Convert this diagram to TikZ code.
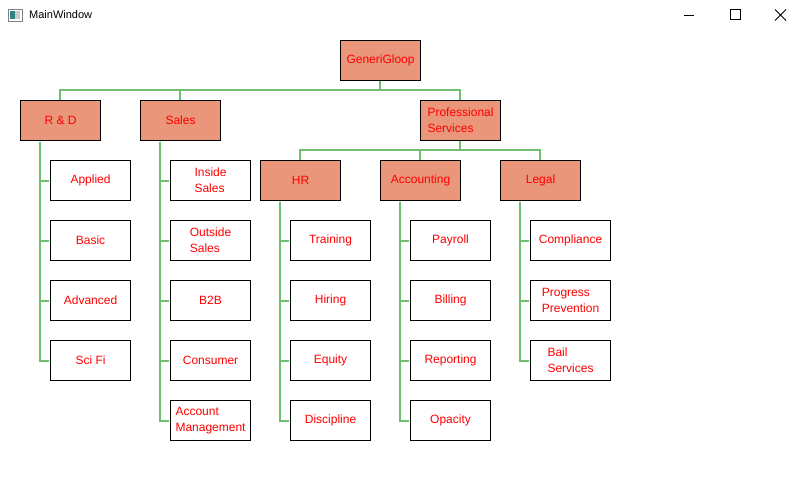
\documentclass[tikz,border=0pt]{standalone}
\usepackage{fontspec}
\setmainfont{Liberation Sans}
\begin{document}
\begin{tikzpicture}[x=1pt,y=-1pt,
  every node/.style={font=\fontsize{12}{16}\selectfont},
  boxbase/.style={draw=black,line width=1.1pt,minimum width=80pt,minimum height=40pt,inner sep=0pt,anchor=north west,text=red,align=left},
  mgr/.style={boxbase,fill=mysalmon},
  leaf/.style={boxbase,fill=white},
  link/.style={draw=mygreen,line width=2pt}]
\definecolor{mysalmon}{RGB}{233,150,122}
\definecolor{mygreen}{RGB}{112,190,112}
\useasboundingbox[fill=white] (0,0) rectangle (804,481);
% title bar
\node[anchor=west,inner sep=0pt,font=\fontsize{11}{13}\selectfont] (title) at (29,15) {MainWindow};
\draw[gray,fill=white] (8,9) rectangle (22,21);
\fill[teal!60!gray] (10,11) rectangle (15,19);
\fill[gray!40] (15,11) rectangle (20,19);
\draw[line width=0.8pt] (684,15) -- (694,15);
\draw[line width=0.8pt] (730.5,9.5) rectangle (740.5,19.5);
\draw[line width=0.8pt] (775,9.5) -- (786,20.5) (775,20.5) -- (786,9.5);
% connectors (drawn first, under boxes)
\coordinate (rootS) at (380,80);
\coordinate (psS) at (460,140);
\foreach \cx in {60,180,460}
  \draw[link] (rootS) -- (380,90) -| (\cx,100);
\foreach \cx in {300,420,540}
  \draw[link] (psS) -- (460,150) -| (\cx,160);
% nodes
\node[mgr] (root) at (340,40) {GeneriGloop};
\node[mgr] (rd) at (20,100) {R \& D};
\node[mgr] (sales) at (140,100) {Sales};
\node[mgr] (ps) at (420,100) {Professional\\Services};
\node[mgr] (hr) at (260,160) {HR};
\node[mgr] (acc) at (380,160) {Accounting};
\node[mgr] (legal) at (500,160) {Legal};
% leaves R&D
\node[leaf] (rd1) at (50,160) {Applied};
\node[leaf] (rd2) at (50,220) {Basic};
\node[leaf] (rd3) at (50,280) {Advanced};
\node[leaf] (rd4) at (50,340) {Sci Fi};
% Sales
\node[leaf] (s1) at (170,160) {Inside\\Sales};
\node[leaf] (s2) at (170,220) {Outside\\Sales};
\node[leaf] (s3) at (170,280) {B2B};
\node[leaf] (s4) at (170,340) {Consumer};
\node[leaf] (s5) at (170,400) {Account\\Management};
% HR
\node[leaf] (h1) at (290,220) {Training};
\node[leaf] (h2) at (290,280) {Hiring};
\node[leaf] (h3) at (290,340) {Equity};
\node[leaf] (h4) at (290,400) {Discipline};
% Accounting
\node[leaf] (a1) at (410,220) {Payroll};
\node[leaf] (a2) at (410,280) {Billing};
\node[leaf] (a3) at (410,340) {Reporting};
\node[leaf] (a4) at (410,400) {Opacity};
% Legal
\node[leaf] (l1) at (530,220) {Compliance};
\node[leaf] (l2) at (530,280) {Progress\\Prevention};
\node[leaf] (l3) at (530,340) {Bail\\Services};
% leaf connectors
\foreach \p/\cs in {rd/{rd1,rd2,rd3,rd4},sales/{s1,s2,s3,s4,s5},hr/{h1,h2,h3,h4},acc/{a1,a2,a3,a4},legal/{l1,l2,l3}}
  \foreach \c in \cs
    \draw[link] ([xshift=20pt,yshift=-0.6pt]\p.south west) |- ([xshift=-0.6pt]\c.west);
\end{tikzpicture}
\end{document}
